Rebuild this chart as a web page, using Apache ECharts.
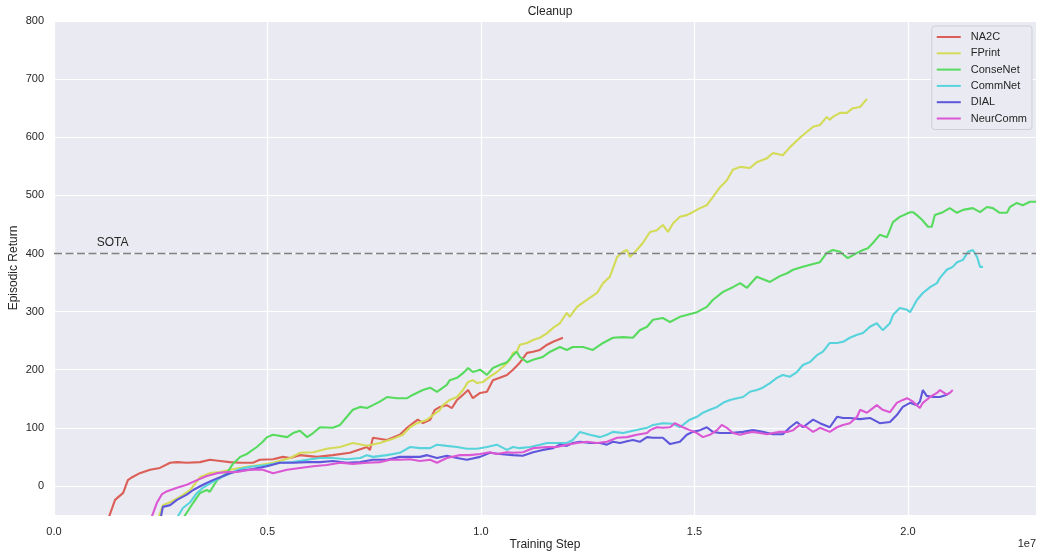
<!DOCTYPE html>
<html>
<head>
<meta charset="utf-8">
<script src="https://cdn.jsdelivr.net/npm/echarts@6/dist/echarts.min.js"></script>
<style>
  html, body { margin: 0; padding: 0; background: #ffffff; }
  #chart { width: 1038px; height: 553px; }
</style>
</head>
<body>
<div id="chart"></div>
<script>
// Training steps are given in units of 1e7.
const seriesNames = ['NA2C', 'FPrint', 'ConseNet', 'CommNet', 'DIAL', 'NeurComm'];
const seriesColors = ['#db5f57', '#d3db57', '#57db5f', '#57d3db', '#5f57db', '#db57d3'];

const na2cSteps = [0.128,0.143,0.162,0.173,0.183,0.201,0.225,0.248,0.272,0.288,0.311,0.342,0.365,0.389,0.412,0.436,0.466,0.482,0.513,0.536,0.553,0.576,0.616,0.653,0.693,0.733,0.740,0.747,0.780,0.810,0.827,0.841,0.852,0.864,0.881,0.892,0.904,0.920,0.932,0.944,0.958,0.970,0.981,0.998,1.014,1.028,1.044,1.061,1.075,1.091,1.108,1.122,1.138,1.155,1.169,1.192];
const na2cReturn = [-55,-24,-12,10,15,22,28,31,40,41,40,41,45,43,41,40,40,45,46,50,48,53,50,53,57,67,62,83,79,88,100,108,114,108,114,131,136,139,134,148,157,165,151,160,162,182,186,191,200,212,229,231,234,243,248,255];

const fprintSteps = [0.245,0.255,0.272,0.295,0.319,0.342,0.365,0.389,0.412,0.452,0.482,0.513,0.553,0.576,0.607,0.639,0.670,0.700,0.733,0.763,0.794,0.817,0.834,0.850,0.874,0.888,0.904,0.911,0.927,0.944,0.958,0.970,0.981,0.991,1.005,1.021,1.037,1.052,1.068,1.075,1.084,1.091,1.108,1.122,1.138,1.155,1.169,1.185,1.201,1.208,1.225,1.248,1.272,1.286,1.302,1.319,1.333,1.342,1.349,1.365,1.379,1.396,1.412,1.426,1.438,1.450,1.466,1.482,1.496,1.513,1.529,1.543,1.560,1.576,1.590,1.607,1.630,1.646,1.670,1.684,1.707,1.724,1.747,1.763,1.778,1.794,1.810,1.817,1.824,1.841,1.857,1.871,1.888,1.904];
const fprintReturn = [-55,-33,-28,-19,-7,15,22,24,28,33,36,40,48,57,58,64,67,74,69,74,81,88,101,108,114,122,131,139,148,153,165,179,182,177,179,188,196,205,217,229,231,243,246,251,255,263,272,280,298,291,308,320,332,349,360,394,403,406,394,406,418,437,440,449,437,452,463,466,471,478,483,497,514,526,544,549,547,557,564,573,569,583,599,609,618,621,635,630,635,642,642,650,652,666];

const consenetSteps = [0.303,0.326,0.342,0.358,0.365,0.382,0.405,0.419,0.436,0.452,0.475,0.489,0.499,0.513,0.546,0.560,0.576,0.593,0.607,0.623,0.653,0.670,0.686,0.700,0.717,0.733,0.747,0.763,0.780,0.803,0.827,0.841,0.864,0.881,0.897,0.920,0.927,0.944,0.958,0.970,0.981,0.998,1.014,1.028,1.044,1.061,1.075,1.084,1.091,1.108,1.122,1.145,1.162,1.185,1.201,1.215,1.239,1.262,1.286,1.309,1.333,1.356,1.372,1.389,1.403,1.426,1.443,1.466,1.482,1.506,1.529,1.543,1.567,1.590,1.607,1.623,1.646,1.677,1.700,1.717,1.731,1.754,1.778,1.794,1.810,1.824,1.841,1.859,1.881,1.895,1.906,1.918,1.934,1.951,1.965,1.981,2.005,2.012,2.021,2.033,2.047,2.056,2.063,2.082,2.098,2.115,2.129,2.152,2.169,2.185,2.199,2.215,2.232,2.239,2.255,2.269,2.286,2.300];
const consenetReturn = [-55,-29,-12,-7,-10,10,22,38,50,55,67,76,84,88,84,91,95,84,91,101,100,105,119,131,136,134,139,145,153,151,151,157,165,169,162,174,182,186,194,203,196,200,191,203,208,213,225,231,222,213,217,222,231,239,234,239,239,234,246,255,256,255,268,274,286,289,282,291,294,299,308,320,334,342,349,341,360,351,361,366,372,377,382,385,401,406,403,392,401,406,409,418,432,428,454,463,471,471,466,458,446,446,466,471,478,470,475,478,471,480,478,470,470,480,487,483,489,489];

const commnetSteps = [0.288,0.302,0.319,0.335,0.349,0.372,0.389,0.405,0.419,0.436,0.459,0.499,0.529,0.560,0.593,0.623,0.653,0.686,0.717,0.733,0.747,0.780,0.810,0.834,0.857,0.881,0.897,0.920,0.944,0.967,0.991,1.014,1.037,1.061,1.075,1.091,1.115,1.138,1.155,1.178,1.201,1.215,1.232,1.255,1.279,1.295,1.309,1.333,1.356,1.389,1.403,1.426,1.450,1.466,1.489,1.506,1.520,1.536,1.553,1.567,1.583,1.600,1.614,1.630,1.646,1.660,1.677,1.693,1.707,1.724,1.740,1.754,1.770,1.787,1.801,1.817,1.834,1.848,1.864,1.881,1.895,1.911,1.927,1.941,1.958,1.965,1.981,1.998,2.005,2.012,2.021,2.035,2.052,2.068,2.075,2.091,2.105,2.115,2.129,2.141,2.152,2.162,2.169,2.176];
const commnetReturn = [-55,-38,-28,-12,-3,7,14,19,24,29,33,36,40,41,45,48,48,46,48,53,50,53,57,67,65,65,71,69,67,64,64,67,71,62,67,65,67,71,74,74,74,79,93,88,84,88,93,91,95,100,105,108,107,101,114,119,126,131,136,143,148,151,153,162,165,169,177,186,191,188,196,208,213,225,231,246,246,248,255,260,263,274,280,268,280,294,306,303,299,308,320,332,342,349,358,372,377,385,389,403,406,394,377,377];

const dialSteps = [0.250,0.255,0.272,0.288,0.311,0.326,0.349,0.372,0.389,0.412,0.436,0.466,0.499,0.529,0.560,0.593,0.623,0.653,0.686,0.717,0.747,0.780,0.810,0.834,0.857,0.874,0.897,0.920,0.944,0.967,0.998,1.021,1.044,1.075,1.098,1.122,1.145,1.169,1.185,1.201,1.215,1.232,1.255,1.279,1.295,1.309,1.326,1.342,1.356,1.372,1.389,1.403,1.426,1.443,1.466,1.482,1.496,1.513,1.529,1.543,1.560,1.583,1.614,1.637,1.660,1.684,1.707,1.724,1.740,1.754,1.778,1.794,1.817,1.834,1.848,1.864,1.888,1.911,1.934,1.958,1.974,1.988,2.005,2.021,2.028,2.035,2.044,2.059,2.075,2.091,2.098];
const dialReturn = [-55,-36,-33,-24,-15,-7,2,10,15,22,26,29,34,40,40,41,41,43,40,41,45,45,50,50,50,53,48,52,48,45,50,57,55,53,52,58,62,65,71,69,74,76,74,74,71,76,74,77,79,76,84,83,83,72,76,88,93,96,101,93,91,91,93,96,93,89,89,101,110,101,114,108,101,119,117,117,115,117,108,110,122,136,143,139,145,165,155,153,153,157,160];

const neurcommSteps = [0.228,0.241,0.253,0.265,0.288,0.311,0.335,0.358,0.382,0.405,0.429,0.459,0.489,0.513,0.546,0.576,0.607,0.639,0.670,0.700,0.733,0.763,0.787,0.810,0.834,0.857,0.881,0.897,0.920,0.951,0.974,0.998,1.021,1.037,1.061,1.075,1.098,1.122,1.155,1.178,1.201,1.225,1.248,1.272,1.295,1.319,1.342,1.365,1.389,1.396,1.412,1.426,1.443,1.454,1.473,1.489,1.506,1.520,1.536,1.553,1.564,1.576,1.590,1.607,1.623,1.637,1.653,1.670,1.684,1.700,1.717,1.731,1.747,1.763,1.778,1.794,1.817,1.834,1.848,1.864,1.881,1.888,1.904,1.918,1.927,1.941,1.958,1.974,1.988,1.998,2.012,2.028,2.035,2.052,2.068,2.075,2.091,2.098,2.105];
const neurcommReturn = [-55,-29,-14,-9,-3,2,10,17,22,24,24,28,28,22,28,31,34,36,40,38,40,41,45,45,46,43,45,40,48,53,53,55,58,55,58,57,58,65,67,67,71,74,76,74,76,83,84,88,91,96,101,100,101,108,101,96,91,84,88,96,105,100,91,88,91,93,91,89,91,93,93,96,105,101,93,100,93,101,105,108,119,131,126,134,139,131,127,143,148,151,145,134,143,153,160,165,157,160,165];

const sotaLevel = 400;
const sotaLabelStep = 0.1;
const xTickValues = [0, 0.5, 1.0, 1.5, 2.0];
const yTickValues = [0, 100, 200, 300, 400, 500, 600, 700, 800];

const stepsByName = [na2cSteps, fprintSteps, consenetSteps, commnetSteps, dialSteps, neurcommSteps];
const returnsByName = [na2cReturn, fprintReturn, consenetReturn, commnetReturn, dialReturn, neurcommReturn];

const font = "'Liberation Sans', Arial, sans-serif";
const textColor = '#262626';
const xMin = 0, xMax = 2.3, yMin = -50, yMax = 800;

const lineSeries = seriesNames.map((name, i) => ({
  name: name,
  type: 'line',
  data: stepsByName[i].map((s, j) => [s, returnsByName[i][j]]),
  showSymbol: false,
  symbol: 'none',
  lineStyle: { color: seriesColors[i], width: 2.1 },
  itemStyle: { color: seriesColors[i] },
  clip: true,
  z: 3 + i
}));

// Dashed reference level
lineSeries.push({
  name: 'SOTA',
  type: 'line',
  data: [[xMin, sotaLevel], [xMax, sotaLevel]],
  showSymbol: false,
  symbol: 'none',
  silent: true,
  lineStyle: { color: '#808080', width: 1.5, type: [8, 3.5] },
  z: 10
});

const chart = echarts.init(document.getElementById('chart'), null, { renderer: 'canvas' });

// Axis titles and the offset note are placed as free text
const staticTexts = [
  {
    type: 'text',
    right: 2,
    bottom: 4,
    style: { text: '1e7', fontFamily: font, fontSize: 11, fill: textColor }
  },
  {
    type: 'text',
    x: 545,
    y: 545,
    style: { text: 'Training Step', fontFamily: font, fontSize: 12, fill: textColor, align: 'center', verticalAlign: 'middle' }
  },
  {
    type: 'text',
    x: 14,
    y: 268,
    rotation: Math.PI / 2,
    style: { text: 'Episodic Return', fontFamily: font, fontSize: 12, fill: textColor, align: 'center', verticalAlign: 'middle' }
  }
];

const option = {
  animation: false,
  backgroundColor: '#ffffff',
  textStyle: { fontFamily: font },
  title: {
    text: 'Cleanup',
    left: 545,
    textAlign: 'center',
    top: 1,
    textStyle: { fontFamily: font, fontSize: 12, fontWeight: 'normal', color: textColor }
  },
  grid: {
    left: 54, right: 2, top: 21, bottom: 38,
    containLabel: false,
    outerBoundsMode: 'none',
    show: true, backgroundColor: '#eaeaf2', borderWidth: 0
  },
  legend: {
    data: seriesNames,
    orient: 'vertical',
    right: 6,
    top: 26,
    padding: [3, 5, 3, 5],
    itemWidth: 24,
    itemHeight: 2,
    itemGap: 0.3,
    icon: 'rect',
    backgroundColor: '#eaeaf2',
    borderColor: '#cfcfd6',
    borderWidth: 1,
    borderRadius: 3,
    textStyle: { fontFamily: font, fontSize: 11, color: textColor, lineHeight: 16, padding: [0, 0, 0, 5] }
  },
  xAxis: {
    type: 'value',
    min: xMin,
    max: xMax,
    axisLine: { show: false },
    axisTick: { show: false, customValues: xTickValues },
    axisLabel: {
      customValues: xTickValues,
      formatter: v => v.toFixed(1),
      fontFamily: font, fontSize: 11, color: textColor, margin: 11
    },
    splitLine: { show: true, lineStyle: { color: '#ffffff', width: 1.2 } }
  },
  yAxis: {
    type: 'value',
    min: yMin,
    max: yMax,
    axisLine: { show: false },
    axisTick: { show: false, customValues: yTickValues },
    axisLabel: {
      customValues: yTickValues,
      fontFamily: font, fontSize: 11, color: textColor, margin: 10
    },
    splitLine: { show: true, lineStyle: { color: '#ffffff', width: 1.2 } }
  },
  graphic: staticTexts,
  series: lineSeries
};

chart.setOption(option);

// Place the SOTA caption just above the dashed level
const p = chart.convertToPixel({ gridIndex: 0 }, [sotaLabelStep, sotaLevel]);
chart.setOption({
  graphic: staticTexts.concat([{
    type: 'text',
    x: p[0],
    y: p[1] - 5,
    style: { text: 'SOTA', fontFamily: font, fontSize: 12, fill: textColor, align: 'left', verticalAlign: 'bottom' }
  }])
});
</script>
</body>
</html>
